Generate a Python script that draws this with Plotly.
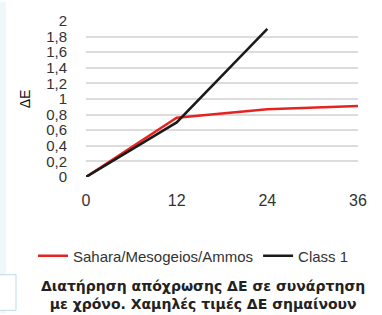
import plotly.graph_objects as go

months = [0, 12, 24, 36]
sahara = [0, 0.76, 0.87, 0.91]
class1 = [0, 0.70, 1.90, None]
y_ticks = [0, 0.2, 0.4, 0.6, 0.8, 1.0, 1.2, 1.4, 1.6, 1.8, 2.0]
y_tick_text = ["0", "0,2", "0,4", "0,6", "0,8", "1", "1,2", "1,4", "1,6", "1,8", "2"]
caption = "<b>Διατήρηση απόχρωσης ΔΕ σε συνάρτηση<br>με χρόνο. Χαμηλές τιμές ΔΕ σημαίνουν</b>"

W, H = 382, 315
L, R, T, B = 86, 24, 19, 138
PW, PH = W - L - R, H - T - B

def px(x):
    return (x - L) / PW

def py(y):
    return (H - B - y) / PH

fig = go.Figure()
fig.add_trace(go.Scatter(x=months, y=sahara, mode="lines", name="Sahara/Mesogeios/Ammos",
                         line=dict(color="#e52420", width=2.5)))
fig.add_trace(go.Scatter(x=months, y=class1, mode="lines", name="Class 1",
                         line=dict(color="#1a1a1a", width=2.5)))

fig.update_layout(
    width=W, height=H,
    margin=dict(l=L, r=R, t=T, b=B),
    paper_bgcolor="white", plot_bgcolor="white",
    font=dict(family="Liberation Sans, Arial, sans-serif", color="#333"),
    xaxis=dict(range=[0, 36], tickvals=months, ticktext=[str(m) for m in months],
               showgrid=False, zeroline=False, showline=False,
               tickfont=dict(size=16, color="#333"), ticks="", ticklabelstandoff=12),
    yaxis=dict(range=[0, 2], tickvals=y_ticks, ticktext=y_tick_text,
               showgrid=True, gridcolor="#dcdcdc", gridwidth=1.5,
               zeroline=False, showline=False,
               tickfont=dict(size=15, color="#333"), ticks="", ticklabelstandoff=18,
               title=dict(text="ΔE", font=dict(size=14, color="#111"), standoff=12)),
    legend=dict(orientation="h", x=px(33), xanchor="left", y=py(257), yanchor="middle",
                font=dict(size=15, color="#333"), itemwidth=30,
                bgcolor="rgba(0,0,0,0)"),
    showlegend=True,
)

fig.add_annotation(text=caption, xref="paper", yref="paper", x=px(203), xanchor="center",
                   y=py(277), yanchor="top", showarrow=False, align="center",
                   font=dict(size=14, color="#222", family="DejaVu Sans, Liberation Sans, sans-serif"))

# faint page edge artifacts on the left
fig.add_shape(type="rect", xref="paper", yref="paper", x0=px(0), x1=px(6), y0=py(315), y1=py(0),
              line=dict(width=0), fillcolor="#eef8fb", layer="below")
fig.add_shape(type="rect", xref="paper", yref="paper", x0=px(-2), x1=px(16), y0=py(312), y1=py(276),
              line=dict(width=1, color="#bcdbe8"), fillcolor="white", layer="below")

fig.write_html("out.html", config={"displayModeBar": False},
               post_script="document.body.style.margin='0';document.body.style.overflow='hidden';")
